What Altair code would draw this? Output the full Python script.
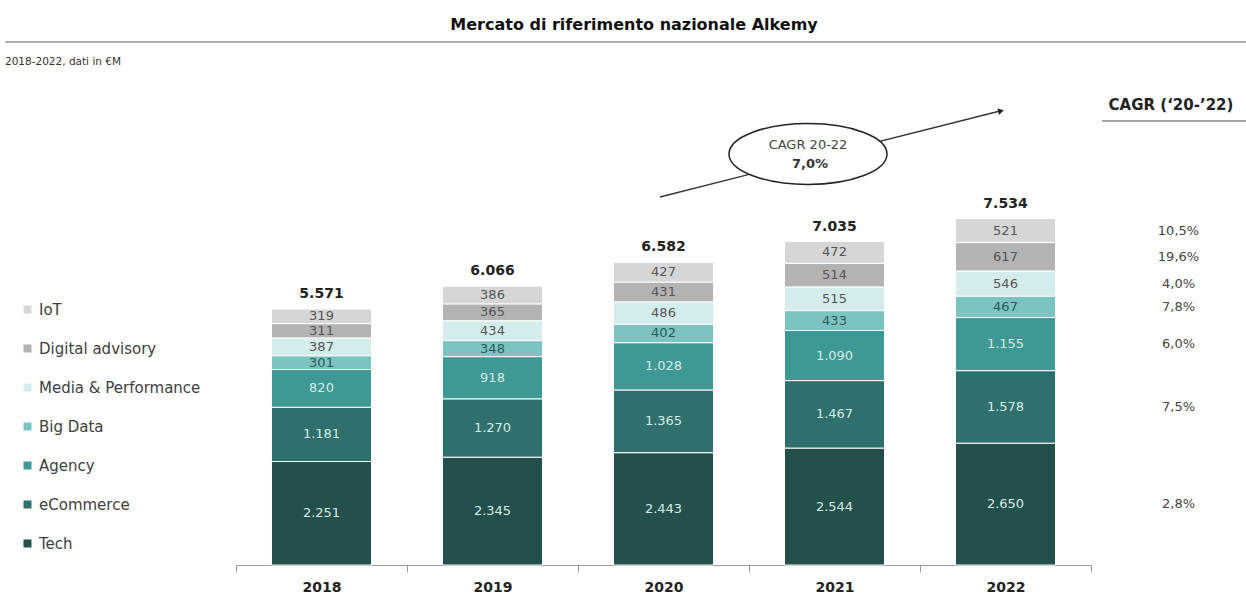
import altair as alt
import pandas as pd

years = ["2018", "2019", "2020", "2021", "2022"]
segments = ["Tech", "eCommerce", "Agency", "Big Data", "Media & Performance", "Digital advisory", "IoT"]
tech = [2251, 2345, 2443, 2544, 2650]
ecommerce = [1181, 1270, 1365, 1467, 1578]
agency = [820, 918, 1028, 1090, 1155]
bigdata = [301, 348, 402, 433, 467]
media = [387, 434, 486, 515, 546]
advisory = [311, 365, 431, 514, 617]
iot = [319, 386, 427, 472, 521]
totals = [5571, 6066, 6582, 7035, 7534]
cagr = ["2,8%", "7,5%", "6,0%", "7,8%", "4,0%", "19,6%", "10,5%"]

series = [tech, ecommerce, agency, bigdata, media, advisory, iot]
colors = ["#234f4c", "#2f706c", "#3e9893", "#7cc4c1", "#d5ecec", "#b3b3b3", "#d6d6d6"]
text_colors = ["#d6ebe9", "#d6ebe9", "#d6ebe9", "#2a5a58", "#555555", "#555555", "#555555"]

def it(v):
    return f"{v:,}".replace(",", ".")

rows = []
for i, (seg, vals) in enumerate(zip(segments, series)):
    for y, v in zip(years, vals):
        rows.append({"year": y, "segment": seg, "idx": i, "value": v, "label": it(v),
                     "cagr": cagr[i]})
df = pd.DataFrame(rows)
tot = pd.DataFrame({"year": years, "total": totals, "label": [it(t) for t in totals]})

FONT = "DejaVu Sans"
W, H = 855, 485
ymax = 10550

xscale = alt.Scale(domain=years, paddingInner=0, paddingOuter=0)
yscale = alt.Scale(domain=[0, ymax])

legend_order = segments[::-1]
legend_colors = colors[::-1]

bars = alt.Chart(df).mark_bar(width=alt.RelativeBandSize(0.585), stroke="white", strokeWidth=1).encode(
    x=alt.X("year:N", scale=xscale, title=None,
            axis=alt.Axis(labelFont=FONT, labelFontSize=14, labelFontWeight="bold", labelColor="#222222",
                          labelPadding=8, domainColor="#999999", tickColor="#999999", tickSize=7,
                          tickBand="extent", labelAngle=0)),
    y=alt.Y("value:Q", scale=yscale, axis=None, stack="zero"),
    color=alt.Color("segment:N", scale=alt.Scale(domain=legend_order, range=legend_colors),
                    legend=alt.Legend(title=None, orient="none", legendX=-216, legendY=222,
                                      symbolType="square", symbolSize=64, symbolStrokeWidth=0,
                                      labelFont=FONT, labelFontSize=15, labelColor="#404040",
                                      labelOffset=4, labelLimit=400, rowPadding=23, padding=0)),
    order=alt.Order("idx:Q", sort="ascending"),
)

stacked = alt.Chart(df).transform_stack(
    stack="value", groupby=["year"], as_=["y0", "y1"], sort=[alt.SortField("idx", order="ascending")]
).transform_calculate(mid="(datum.y0 + datum.y1) / 2")

seg_labels = stacked.mark_text(font=FONT, fontSize=13).encode(
    x=alt.X("year:N", scale=xscale),
    y=alt.Y("mid:Q", scale=yscale),
    text="label:N",
    color=alt.Color("segment:N", scale=alt.Scale(domain=segments, range=text_colors), legend=None),
)

cagr_labels = stacked.transform_filter(alt.datum.year == "2022").mark_text(
    font=FONT, fontSize=13, color="#444444", dx=173).encode(
    x=alt.X("year:N", scale=xscale),
    y=alt.Y("mid:Q", scale=yscale),
    text="cagr:N",
)

tot_labels = alt.Chart(tot).mark_text(font=FONT, fontSize=14, fontWeight="bold", color="#222222",
                                      baseline="bottom", dy=-8).encode(
    x=alt.X("year:N", scale=xscale),
    y=alt.Y("total:Q", scale=yscale),
    text="label:N",
)

one = pd.DataFrame({"a": [0]})
base = alt.Chart(one)

title = base.mark_text(text="Mercato di riferimento nazionale Alkemy", font=FONT, fontSize=16,
                       fontWeight="bold", color="#111111", align="center").encode(
    x=alt.value(398), y=alt.value(-55))
title_rule = base.mark_rule(color="#b0b0b0", strokeWidth=2).encode(
    x=alt.value(-231), x2=alt.value(1010), y=alt.value(-38))
subtitle = base.mark_text(text="2018-2022, dati in €M", font=FONT, fontSize=10.5, color="#333333",
                          align="left").encode(x=alt.value(-231), y=alt.value(-18))

cagr_head = base.mark_text(text="CAGR (‘20-’22)", font=FONT, fontSize=15, fontWeight="bold",
                           color="#222222", align="center").encode(x=alt.value(935), y=alt.value(25))
cagr_rule = base.mark_rule(color="#888888", strokeWidth=1.5).encode(
    x=alt.value(866), x2=alt.value(1010), y=alt.value(41))

arrow_line = base.mark_rule(color="#333333", strokeWidth=1.3).encode(
    x=alt.value(424), x2=alt.value(764), y=alt.value(117), y2=alt.value(31))
arrow_head = base.mark_point(shape="triangle-up", angle=76, size=45, filled=True, color="#222222",
                             opacity=1).encode(x=alt.value(765), y=alt.value(31))
ellipse = base.mark_point(shape="M-1,0A1,0.386,0,1,1,1,0A1,0.386,0,1,1,-1,0Z", size=158 * 158,
                          filled=False, fill="white", fillOpacity=1, stroke="#222222", strokeWidth=1.5,
                          opacity=1).encode(x=alt.value(572), y=alt.value(74))
ell_t1 = base.mark_text(text="CAGR 20-22", font=FONT, fontSize=13, color="#444444").encode(
    x=alt.value(572), y=alt.value(65))
ell_t2 = base.mark_text(text="7,0%", font=FONT, fontSize=13, fontWeight="bold", color="#333333").encode(
    x=alt.value(574), y=alt.value(84))

chart = alt.layer(
    bars, seg_labels, cagr_labels, tot_labels,
    title, title_rule, subtitle, cagr_head, cagr_rule,
    arrow_line, arrow_head, ellipse, ell_t1, ell_t2,
).resolve_scale(color="independent").properties(
    width=W, height=H,
    autosize=alt.AutoSizeParams(type="none"),
    padding={"left": 236, "top": 80, "right": 155, "bottom": 28},
    background="white",
).configure_view(stroke=None)

chart.save("out.html", embed_options={"renderer": "svg", "actions": False})
